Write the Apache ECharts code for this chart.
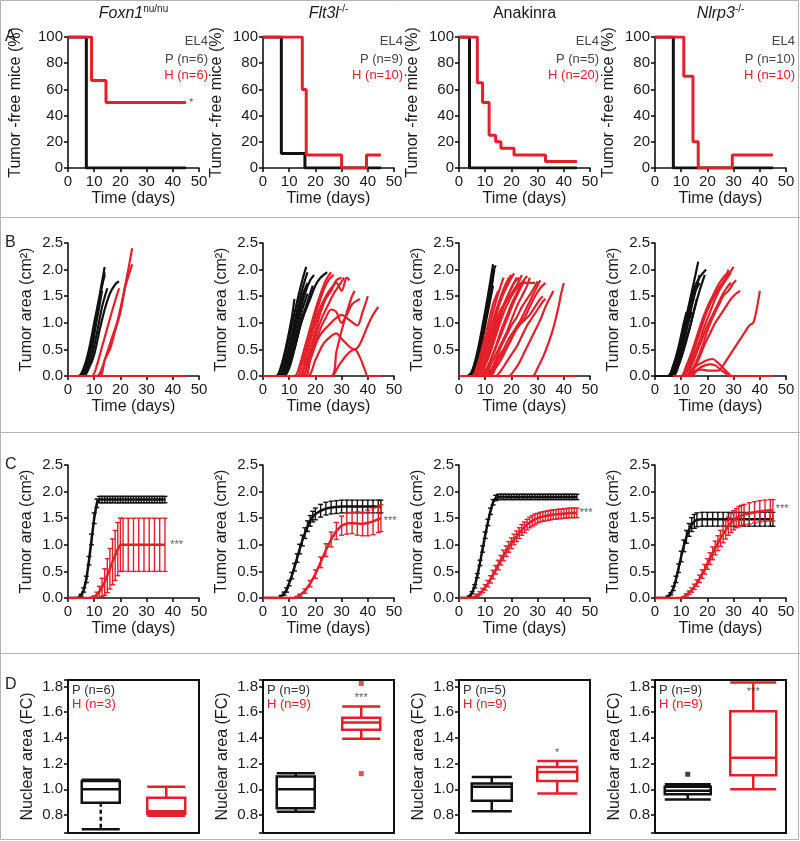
<!DOCTYPE html>
<html><head><meta charset="utf-8">
<script src="https://cdn.jsdelivr.net/npm/echarts@6/dist/echarts.min.js"></script>
<style>html,body{margin:0;padding:0;background:#fff}#c{width:800px;height:841px}</style>
</head><body><div id="c"></div>
<script>
// ---------------- DATA ----------------
const panelTitles = ['Foxn1|nu/nu', 'Flt3l|-/-', 'Anakinra|', 'Nlrp3|-/-'];
const legendA = [['EL4','P (n=6)','H (n=6)'],['EL4','P (n=9)','H (n=10)'],['EL4','P (n=5)','H (n=20)'],['EL4','P (n=10)','H (n=10)']];
const legendD = [['P (n=6)','H (n=3)'],['P (n=9)','H (n=9)'],['P (n=5)','H (n=9)'],['P (n=9)','H (n=9)']];

// Row A: tumor-free survival (step curves)
const foxnA_P_days = [0,7,45],            foxnA_P = [100,0,0];
const foxnA_H_days = [0,9,14.5,45],       foxnA_H = [100,66.7,50,50];
const flt3lA_P_days = [0,7,16,45],        flt3lA_P = [100,11.1,0,0];
const flt3lA_H_days = [0,15,16.5,30,39.5,45], flt3lA_H = [100,60,10,0,10,10];
const anakA_P_days = [0,4,45],            anakA_P = [100,0,0];
const anakA_H_days = [0,7,9,11.5,14,16,21,33,45], anakA_H = [100,65,50,25,20,15,10,5,5];
const nlrpA_P_days = [0,7,45],            nlrpA_P = [100,0,0];
const nlrpA_H_days = [0,11,14.5,16.5,29.5,45], nlrpA_H = [100,70,20,0,10,10];

// Row B: individual tumor growth curves [day, area]
const foxnB_P = [
 [[0,0],[4,0],[6,0.15],[8,0.5],[10,1.0],[12,1.5],[14,2.05]],
 [[0,0],[4,0],[6,0.1],[8,0.4],[10,0.9],[12,1.45],[14,1.95]],
 [[0,0],[5,0],[7,0.2],[9,0.6],[11,1.15],[13,1.7],[14,1.9]],
 [[0,0],[5,0],[7,0.15],[9,0.5],[11,1.05],[13,1.6]],
 [[0,0],[5,0],[7,0.1],[9,0.35],[11,0.8],[13,1.3],[15,1.65]],
 [[0,0],[6,0],[8,0.15],[10,0.4],[12,0.85],[14,1.25],[16,1.55],[18,1.72],[19.5,1.78]]
];
const foxnB_H = [
 [[0,0],[45,0]],[[0,0],[45,0]],[[0,0],[45,0]],
 [[0,0],[9,0],[11,0.2],[13,0.55],[15,0.9],[17,1.25],[19.5,1.65]],
 [[0,0],[11,0],[13,0.15],[15,0.45],[17,0.75],[19,1.05],[21,1.5],[23,2.0],[24.5,2.4]],
 [[0,0],[12,0],[14,0.3],[16,0.5],[18,0.85],[20,1.2],[22,1.7],[24.5,2.1]]
];
const flt3lB_P = [
 [[0,0],[5,0],[7,0.2],[9,0.6],[11,1.1],[12,1.45]],
 [[0,0],[5,0],[7,0.15],[9,0.5],[11,0.95],[13,1.4],[15,1.8],[16.5,2.05]],
 [[0,0],[6,0],[8,0.2],[10,0.55],[12,1.0],[14,1.45],[16,1.8],[17,1.95]],
 [[0,0],[6,0],[8,0.1],[10,0.4],[12,0.8],[14,1.2],[16,1.55],[18,1.8],[19.5,1.9]],
 [[0,0],[7,0],[9,0.15],[11,0.45],[13,0.85],[15,1.25],[17,1.55]],
 [[0,0],[6,0],[8,0.15],[10,0.5],[12,0.9],[14,1.3],[16,1.6]],
 [[0,0],[7,0],[9,0.2],[11,0.6],[13,1.05],[15,1.5],[17,1.75]],
 [[0,0],[8,0],[10,0.15],[12,0.5],[14,0.9],[16,1.2],[18,1.45],[20,1.7],[22,1.85],[24.5,1.95]],
 [[0,0],[7,0],[9,0.1],[11,0.35],[13,0.7],[15,1.1],[17,1.4],[19,1.7]]
];
const flt3lB_H = [
 [[0,0],[12,0],[14,0.2],[16,0.55],[18,0.9],[20,1.25],[22,1.55],[24,1.8],[26,1.95]],
 [[0,0],[13,0],[15,0.25],[17,0.6],[19,0.95],[21,1.3],[23,1.6],[25,1.8],[27,1.9]],
 [[0,0],[14,0],[16,0.2],[18,0.5],[20,0.85],[22,1.2],[24,1.45],[26,1.6],[28,1.8],[30,1.85]],
 [[0,0],[15,0],[17,0.25],[19,0.55],[21,0.9],[23,1.15],[25,1.35],[27,1.55],[29,1.7],[31,1.85]],
 [[0,0],[14,0],[16,0.3],[18,0.65],[20,1.0],[22,1.3],[24,1.5],[26,1.65],[28,1.75],[30,1.6],[32,1.85],[33,1.8]],
 [[0,0],[16,0],[18,0.3],[20,0.6],[22,0.9],[24,1.1],[26,1.25],[28,1.2],[30,1.0],[32,1.15],[34,1.35],[36,1.42],[37,1.45]],
 [[0,0],[15,0],[17,0.2],[19,0.45],[21,0.7],[23,0.85],[25,0.95],[27,1.05],[30,1.15],[33,1.05],[36,0.95],[38,1.2],[40,1.5]],
 [[0,0],[17,0],[20,0.3],[23,0.6],[26,0.75],[28,0.8],[30,0.7],[33,0.55],[35,0.5],[37,0.6],[40,0.95],[42,1.15],[44,1.3]],
 [[0,0],[26,0],[29,0.2],[32,0.4],[35,0.5],[37,0.35],[39,0.1],[40,0],[45,0]],
 [[0,0],[26,0],[28,0.45],[30,0.85],[32,1.2],[34,1.5],[35,1.6]]
];
const anakB_P = [
 [[0,0],[3,0],[5,0.1],[7,0.45],[9,0.95],[11,1.5],[13,2.1]],
 [[0,0],[3,0],[5,0.08],[7,0.4],[9,0.9],[11,1.4],[13,1.95],[14,2.08]],
 [[0,0],[4,0],[6,0.15],[8,0.5],[10,1.0],[12,1.55],[13.5,2.0]],
 [[0,0],[4,0],[6,0.1],[8,0.45],[10,0.95],[12,1.45],[13,1.7]],
 [[0,0],[3,0],[5,0.05],[7,0.35],[9,0.8],[11,1.3],[13,1.85]]
];
const anakB_H = [
 [[0,0],[5,0],[7,0.2],[9,0.55],[11,0.95],[13,1.35],[15,1.6]],
 [[0,0],[5,0],[7,0.15],[9,0.45],[11,0.8],[13,1.2],[15,1.55],[17,1.85]],
 [[0,0],[6,0],[8,0.2],[10,0.5],[12,0.85],[14,1.2],[16,1.5],[18,1.75],[20,1.9]],
 [[0,0],[6,0],[8,0.15],[10,0.4],[12,0.75],[14,1.1],[16,1.45],[18,1.7],[19,1.85]],
 [[0,0],[5,0],[7,0.1],[9,0.35],[11,0.65],[13,1.0],[15,1.3],[17,1.55],[19,1.75],[21,1.93]],
 [[0,0],[6,0],[8,0.1],[10,0.3],[12,0.6],[14,0.9],[16,1.2],[18,1.45],[20,1.65],[22,1.85]],
 [[0,0],[6,0],[8,0.2],[10,0.45],[12,0.7],[14,1.0],[16,1.25],[18,1.4],[20,1.55],[22,1.7],[24,1.9]],
 [[0,0],[7,0],[9,0.15],[11,0.4],[13,0.7],[15,1.0],[17,1.3],[19,1.55],[21,1.75],[23,1.85]],
 [[0,0],[8,0],[10,0.2],[12,0.45],[14,0.75],[16,1.05],[18,1.3],[20,1.5],[22,1.65],[24,1.75],[29,1.75]],
 [[0,0],[8,0],[10,0.1],[12,0.3],[14,0.55],[16,0.85],[18,1.1],[20,1.35],[22,1.55],[24,1.75],[26,1.88]],
 [[0,0],[9,0],[11,0.15],[13,0.4],[15,0.65],[17,0.9],[19,1.15],[21,1.4],[23,1.6],[25,1.8]],
 [[0,0],[10,0],[12,0.2],[14,0.4],[16,0.6],[18,0.8],[20,1.05],[22,1.3],[24,1.5],[26,1.7],[27,1.85]],
 [[0,0],[10,0],[12,0.1],[14,0.3],[16,0.55],[18,0.75],[20,0.95],[22,1.1],[24,1.3],[26,1.45],[28,1.6],[30,1.78]],
 [[0,0],[11,0],[13,0.15],[15,0.35],[17,0.5],[19,0.7],[21,0.85],[23,1.0],[25,1.1],[27,1.3],[29,1.5],[31,1.65],[33,1.75]],
 [[0,0],[11,0],[13,0.1],[15,0.3],[17,0.45],[19,0.6],[21,0.8],[23,0.95],[25,1.05],[27,1.15],[29,1.3],[31,1.45],[32,1.5]],
 [[0,0],[12,0],[14,0.15],[16,0.3],[18,0.5],[20,0.7],[22,0.9],[24,1.1],[26,1.3],[28,1.5],[30,1.7],[31,1.8]],
 [[0,0],[14,0],[16,0.1],[18,0.25],[20,0.4],[22,0.55],[24,0.75],[26,0.95],[28,1.1],[30,1.25],[32,1.4],[33,1.45]],
 [[0,0],[19,0],[21,0.1],[23,0.25],[25,0.45],[27,0.65],[29,0.85],[31,1.05],[33,1.3],[35,1.5],[36,1.6]],
 [[0,0],[28,0],[30,0.15],[32,0.35],[34,0.6],[36,0.9],[38,1.3],[39,1.55],[40,1.75]],
 [[0,0],[45,0]]
];
const nlrpB_P = [
 [[0,0],[5,0],[7,0.2],[9,0.5],[11,0.9],[13,1.35],[15,1.8],[16.5,2.15]],
 [[0,0],[5,0],[7,0.15],[9,0.45],[11,0.85],[13,1.25],[15,1.65],[17,1.85],[19.5,2.0]],
 [[0,0],[6,0],[8,0.25],[10,0.65],[12,1.1],[13,1.3]],
 [[0,0],[5,0],[7,0.2],[9,0.55],[11,1.0],[12,1.2]],
 [[0,0],[6,0],[8,0.2],[10,0.55],[12,0.95],[14,1.4],[15,1.6]],
 [[0,0],[6,0],[8,0.15],[10,0.45],[12,0.85],[14,1.3],[16,1.7],[17,1.9]],
 [[0,0],[6,0],[8,0.2],[10,0.5],[12,0.9],[14,1.2]],
 [[0,0],[5,0],[7,0.1],[9,0.4],[11,0.75],[13,1.15],[15,1.55],[17,1.75]],
 [[0,0],[6,0],[8,0.1],[10,0.35],[12,0.7],[14,1.05],[16,1.45]],
 [[0,0],[7,0],[9,0.2],[11,0.5],[13,0.85],[15,1.25],[17,1.6],[19,1.9]]
];
const nlrpB_H = [
 [[7,0],[10,0],[12,0.15],[14,0.4],[16,0.7],[18,1.0],[20,1.25],[22,1.45],[24,1.6],[26,1.75],[28,1.9],[30,2.05]],
 [[7,0],[10,0],[12,0.2],[14,0.45],[16,0.75],[18,1.05],[20,1.3],[22,1.5],[24,1.7],[26,1.85],[28,1.95]],
 [[7,0],[11,0],[13,0.15],[15,0.4],[17,0.65],[19,0.95],[21,1.2],[23,1.45],[25,1.65],[27,1.8],[29,1.95]],
 [[7,0],[12,0],[14,0.2],[16,0.45],[18,0.7],[20,0.95],[22,1.15],[24,1.35],[26,1.55],[28,1.7],[29,1.75]],
 [[7,0],[12,0],[14,0.1],[16,0.3],[18,0.55],[20,0.85],[22,1.1],[24,1.3],[26,1.5],[28,1.6],[30,1.75],[31,1.8]],
 [[7,0],[13,0],[15,0.15],[17,0.35],[19,0.6],[21,0.8],[23,1.0],[25,1.15],[27,1.3],[29,1.45],[31,1.55],[32.5,1.6]],
 [[7,0],[12,0],[14,0.1],[16,0.2],[18,0.25],[20,0.3],[22,0.32],[24,0.25],[26,0.15],[28,0.05],[29,0]],
 [[7,0],[13,0],[15,0.08],[17,0.15],[19,0.2],[21,0.22],[23,0.2],[25,0.12],[27,0.05],[28,0],[45,0]],
 [[7,0],[14,0],[16,0.1],[18,0.12],[20,0.1],[24,0.1],[26,0.2],[28,0.35],[30,0.5],[32,0.65],[34,0.8],[36,0.95],[37.5,1.0],[39,1.3],[40,1.6]],
 [[7,0],[11,0],[13,0.2],[15,0.5],[17,0.8],[19,1.1],[21,1.35],[23,1.55],[25,1.7],[27,1.85],[28,2.0]]
];

// Row C: mean tumor area [day, mean, sem]
const foxnC_P = [[0,0,0],[1,0,0],[2,0,0],[3,0,0],[4,0.01,0],[5,0.05,0.02],[6,0.15,0.04],[7,0.35,0.06],[8,0.7,0.08],[9,1.1,0.1],[10,1.5,0.1],[11,1.78,0.08],[12,1.85,0.06],[13,1.85,0.06],[14,1.85,0.06],[15,1.85,0.06],[16,1.85,0.06],[17,1.85,0.06],[18,1.85,0.06],[19,1.85,0.06],[20,1.85,0.06],[21,1.85,0.06],[22,1.85,0.06],[23,1.85,0.06],[24,1.85,0.06],[25,1.85,0.06],[26,1.85,0.06],[27,1.85,0.06],[28,1.85,0.06],[29,1.85,0.06],[30,1.85,0.06],[31,1.85,0.06],[32,1.85,0.06],[33,1.85,0.06],[34,1.85,0.06],[35,1.85,0.06],[36,1.85,0.06],[37,1.85,0.06]];
const foxnC_H = [[0,0,0],[2,0,0],[4,0,0],[6,0,0],[8,0,0],[10,0.02,0.02],[11,0.06,0.05],[12,0.12,0.1],[13,0.2,0.17],[14,0.3,0.25],[15,0.42,0.32],[16,0.55,0.38],[17,0.68,0.43],[18,0.8,0.47],[19,0.92,0.5],[20,1.0,0.5],[21,1.0,0.5],[23,1.0,0.5],[25,1.0,0.5],[27,1.0,0.5],[29,1.0,0.5],[31,1.0,0.5],[33,1.0,0.5],[35,1.0,0.5],[37,1.0,0.5]];
const flt3lC_P = [[0,0,0],[2,0,0],[4,0,0],[6,0,0],[7,0.03,0.02],[8,0.08,0.03],[9,0.15,0.04],[10,0.28,0.05],[11,0.42,0.06],[12,0.58,0.07],[13,0.75,0.08],[14,0.92,0.09],[15,1.08,0.1],[16,1.22,0.1],[17,1.35,0.1],[18,1.45,0.1],[19,1.53,0.1],[20,1.58,0.11],[22,1.64,0.12],[24,1.68,0.12],[26,1.7,0.12],[28,1.71,0.12],[30,1.72,0.12],[32,1.72,0.12],[34,1.72,0.12],[36,1.72,0.12],[38,1.72,0.12],[40,1.72,0.12],[42,1.72,0.12],[44,1.72,0.12],[45,1.72,0.12]];
const flt3lC_H = [[0,0,0],[4,0,0],[8,0,0],[12,0,0],[13,0.02,0.01],[14,0.05,0.02],[16,0.13,0.04],[18,0.27,0.06],[20,0.45,0.08],[22,0.67,0.1],[24,0.9,0.12],[26,1.1,0.14],[28,1.26,0.16],[30,1.36,0.18],[32,1.4,0.2],[34,1.41,0.2],[36,1.4,0.22],[38,1.39,0.22],[40,1.41,0.24],[42,1.44,0.25],[44,1.48,0.25],[45,1.5,0.25]];
const anakC_P = [[0,0,0],[2,0,0],[3,0,0],[4,0.03,0.01],[5,0.1,0.02],[6,0.22,0.03],[7,0.42,0.04],[8,0.66,0.05],[9,0.92,0.06],[10,1.18,0.06],[11,1.42,0.06],[12,1.63,0.06],[13,1.8,0.05],[14,1.88,0.05],[15,1.9,0.05],[16,1.9,0.05],[17,1.9,0.05],[18,1.9,0.05],[19,1.9,0.05],[20,1.9,0.05],[21,1.9,0.05],[22,1.9,0.05],[23,1.9,0.05],[24,1.9,0.05],[25,1.9,0.05],[26,1.9,0.05],[27,1.9,0.05],[28,1.9,0.05],[29,1.9,0.05],[30,1.9,0.05],[31,1.9,0.05],[32,1.9,0.05],[33,1.9,0.05],[34,1.9,0.05],[35,1.9,0.05],[36,1.9,0.05],[37,1.9,0.05],[38,1.9,0.05],[39,1.9,0.05],[40,1.9,0.05],[41,1.9,0.05],[42,1.9,0.05],[43,1.9,0.05],[44,1.9,0.05],[45,1.9,0.05]];
const anakC_H = [[0,0,0],[2,0,0],[4,0,0],[5,0,0],[6,0.02,0.01],[7,0.05,0.02],[8,0.09,0.03],[9,0.14,0.04],[10,0.2,0.05],[11,0.27,0.06],[12,0.35,0.07],[13,0.44,0.08],[14,0.53,0.08],[15,0.62,0.09],[16,0.71,0.09],[17,0.8,0.1],[18,0.88,0.1],[19,0.96,0.1],[20,1.03,0.1],[21,1.1,0.1],[22,1.16,0.1],[23,1.22,0.1],[24,1.28,0.1],[25,1.33,0.1],[26,1.38,0.1],[27,1.42,0.1],[28,1.45,0.1],[29,1.48,0.1],[30,1.5,0.09],[31,1.52,0.09],[32,1.53,0.09],[33,1.54,0.09],[34,1.55,0.09],[35,1.56,0.09],[36,1.57,0.09],[37,1.57,0.09],[38,1.58,0.09],[39,1.58,0.09],[40,1.59,0.09],[41,1.59,0.09],[42,1.6,0.09],[43,1.6,0.09],[44,1.6,0.09],[45,1.6,0.09]];
const nlrpC_P = [[0,0,0],[2,0,0],[4,0,0],[5,0.03,0.01],[6,0.08,0.02],[7,0.18,0.04],[8,0.35,0.06],[9,0.56,0.08],[10,0.78,0.1],[11,0.98,0.11],[12,1.15,0.12],[13,1.28,0.12],[14,1.38,0.13],[15,1.44,0.13],[16,1.47,0.13],[18,1.48,0.13],[20,1.48,0.13],[22,1.48,0.13],[24,1.48,0.13],[26,1.48,0.13],[28,1.48,0.13],[30,1.48,0.13],[32,1.48,0.13],[34,1.48,0.13],[36,1.48,0.13],[38,1.48,0.13],[40,1.48,0.13],[42,1.48,0.13],[44,1.48,0.13],[45,1.48,0.13]];
const nlrpC_H = [[0,0,0],[4,0,0],[8,0,0],[10,0,0],[11,0.02,0.01],[12,0.06,0.02],[13,0.1,0.03],[14,0.15,0.04],[15,0.21,0.05],[16,0.28,0.06],[17,0.36,0.07],[18,0.45,0.08],[19,0.54,0.09],[20,0.64,0.1],[21,0.74,0.11],[22,0.84,0.12],[23,0.94,0.13],[24,1.03,0.14],[25,1.12,0.15],[26,1.2,0.16],[27,1.28,0.17],[28,1.35,0.17],[29,1.41,0.18],[30,1.46,0.18],[31,1.5,0.18],[32,1.53,0.19],[33,1.55,0.19],[34,1.57,0.19],[36,1.59,0.2],[38,1.61,0.2],[40,1.63,0.2],[42,1.64,0.2],[44,1.65,0.2],[45,1.65,0.2]];

// Row D: nuclear area boxplots [min, Q1, median, Q3, max]
const groupsD = ['P', 'H'];
const foxnD_P = [0.69, 0.895, 1.0, 1.065, 1.075];
const foxnD_H = [0.795, 0.81, 0.83, 0.935, 1.02];
const flt3lD_P = [0.826, 0.852, 1.0, 1.10, 1.125];
const flt3lD_H = [1.393, 1.463, 1.52, 1.556, 1.643];
const flt3lD_H_out = [1.823, 1.122];
const anakD_P = [0.83, 0.91, 1.02, 1.045, 1.095];
const anakD_H = [0.968, 1.065, 1.135, 1.173, 1.22];
const nlrpD_P = [0.92, 0.962, 0.988, 1.019, 1.04];
const nlrpD_P_out = [1.117];
const nlrpD_H = [1.0, 1.11, 1.246, 1.607, 1.83];

// significance marks
const starsA = [['*', 47, 50], null, null, null];
const starsC = [['***', 41.5, 1.0], ['***', 48.5, 1.45], ['***', 48.5, 1.6], ['***', 48.5, 1.68]];
const starsD = [null, ['***', 'H', 1.71], ['*', 'H', 1.28], ['***', 'H', 1.76]];

// ---------------- CHART ----------------
const FONT = '"Liberation Sans", Arial, sans-serif';
const RED = '#e3202a', BLK = '#111111', TXT = '#1a1a1a';
const colX = [68, 263, 459, 655];
const PW = 131;
const rows = {A:{top:37,h:131}, B:{top:243,h:133}, C:{top:465,h:133}, D:{top:680,h:153}};
const lineStyleAx = {color:'#111', width:1.6};

const option = {animation:false, grid:[], xAxis:[], yAxis:[], series:[], graphic:[]};
let gi = 0;
function addGrid(col, rk, extraGrid) {
  const r = rows[rk];
  option.grid.push(Object.assign({left: colX[col], top: r.top, width: PW, height: r.h, containLabel:false}, extraGrid||{}));
  return gi++;
}
function timeX(idx) {
  return {gridIndex: idx, type:'value', min:0, max:50, interval:10,
    axisLine:{show:true, onZero:false, lineStyle:lineStyleAx},
    axisTick:{show:true, length:4, lineStyle:lineStyleAx},
    axisLabel:{fontSize:15, color:TXT, fontFamily:FONT, margin:6},
    splitLine:{show:false},
    name:'Time (days)', nameLocation:'middle', nameGap:23,
    nameTextStyle:{fontSize:16, color:TXT, fontFamily:FONT}};
}
function valY(idx, cfg) {
  return Object.assign({gridIndex: idx, type:'value',
    axisLine:{show:true, onZero:false, lineStyle:lineStyleAx},
    axisTick:{show:true, length:4, lineStyle:lineStyleAx},
    splitLine:{show:false}, nameLocation:'middle',
    nameTextStyle:{fontSize:16, color:TXT, fontFamily:FONT}}, cfg);
}
function starSeries(idx, s) {
  if (!s) return;
  option.series.push({type:'scatter', xAxisIndex:idx, yAxisIndex:idx, symbolSize:1, silent:true,
    itemStyle:{color:'rgba(0,0,0,0)'}, z:10,
    label:{show:true, position:'inside', formatter:s[0], color:'#333', fontSize:11, fontFamily:FONT},
    data:[[s[1], s[2]]]});
}
function zip(d, v) { return d.map((x, i) => [x, v[i]]); }

// Row A
const aData = [[foxnA_P_days,foxnA_P,foxnA_H_days,foxnA_H],[flt3lA_P_days,flt3lA_P,flt3lA_H_days,flt3lA_H],
               [anakA_P_days,anakA_P,anakA_H_days,anakA_H],[nlrpA_P_days,nlrpA_P,nlrpA_H_days,nlrpA_H]];
aData.forEach((d, c) => {
  const idx = addGrid(c, 'A');
  option.xAxis.push(timeX(idx));
  option.yAxis.push(valY(idx, {min:0, max:100, interval:20, name:'Tumor -free mice (%)', nameGap: c === 0 ? 44 : 38,
    axisLabel:{fontSize:15, color:TXT, fontFamily:FONT, margin:5}}));
  option.series.push({type:'line', step:'end', xAxisIndex:idx, yAxisIndex:idx, showSymbol:false, silent:true,
    lineStyle:{color:BLK, width:3}, itemStyle:{color:BLK}, data:zip(d[0], d[1]), z:2});
  option.series.push({type:'line', step:'end', xAxisIndex:idx, yAxisIndex:idx, showSymbol:false, silent:true,
    lineStyle:{color:RED, width:3}, itemStyle:{color:RED}, data:zip(d[2], d[3]), z:3});
  starSeries(idx, starsA[c]);
});

// Row B
const bData = [[foxnB_P, foxnB_H],[flt3lB_P, flt3lB_H],[anakB_P, anakB_H],[nlrpB_P, nlrpB_H]];
bData.forEach((d, c) => {
  const idx = addGrid(c, 'B');
  option.xAxis.push(timeX(idx));
  option.yAxis.push(valY(idx, {min:0, max:2.5, interval:0.5, name:'Tumor area (cm²)', nameGap:33,
    axisLabel:{fontSize:15, color:TXT, fontFamily:FONT, margin:5, showMinLabel: c !== 2, formatter: v => v.toFixed(1)}}));
  d[0].forEach(m => option.series.push({type:'line', xAxisIndex:idx, yAxisIndex:idx, showSymbol:false, silent:true, smooth:0.3,
    lineStyle:{color:BLK, width:2.2}, itemStyle:{color:BLK}, data:m, z:2}));
  d[1].forEach(m => option.series.push({type:'line', xAxisIndex:idx, yAxisIndex:idx, showSymbol:false, silent:true, smooth:0.3,
    lineStyle:{color:RED, width:2.2}, itemStyle:{color:RED}, data:m, z:3}));
});

// Row C
function errSeries(idx, data, color, z) {
  return {type:'custom', xAxisIndex:idx, yAxisIndex:idx, data:data, encode:{x:0, y:1}, silent:true, z:z,
    renderItem: function(params, api) {
      const x = api.value(0), m = api.value(1), e = api.value(2);
      if (!(e > 0)) return null;
      const t = api.coord([x, m + e]), b = api.coord([x, m - e]);
      const w = 2.5, st = {stroke:color, lineWidth:1.4};
      return {type:'group', children:[
        {type:'line', shape:{x1:t[0], y1:t[1], x2:b[0], y2:b[1]}, style:st},
        {type:'line', shape:{x1:t[0]-w, y1:t[1], x2:t[0]+w, y2:t[1]}, style:st},
        {type:'line', shape:{x1:b[0]-w, y1:b[1], x2:b[0]+w, y2:b[1]}, style:st}]};
    }};
}
const cData = [[foxnC_P, foxnC_H],[flt3lC_P, flt3lC_H],[anakC_P, anakC_H],[nlrpC_P, nlrpC_H]];
cData.forEach((d, c) => {
  const idx = addGrid(c, 'C');
  option.xAxis.push(timeX(idx));
  option.yAxis.push(valY(idx, {min:0, max:2.5, interval:0.5, name:'Tumor area (cm²)', nameGap:33,
    axisLabel:{fontSize:15, color:TXT, fontFamily:FONT, margin:5, formatter: v => v.toFixed(1)}}));
  option.series.push({type:'line', xAxisIndex:idx, yAxisIndex:idx, showSymbol:false, silent:true,
    lineStyle:{color:BLK, width:2.5}, data:d[0].map(p => [p[0], p[1]]), z:2});
  option.series.push(errSeries(idx, d[0], BLK, 2));
  option.series.push({type:'line', xAxisIndex:idx, yAxisIndex:idx, showSymbol:false, silent:true,
    lineStyle:{color:RED, width:2.5}, data:d[1].map(p => [p[0], p[1]]), z:3});
  option.series.push(errSeries(idx, d[1], RED, 3));
  starSeries(idx, starsC[c]);
});

// Row D
const dData = [[foxnD_P, foxnD_H, [], []],[flt3lD_P, flt3lD_H, [], flt3lD_H_out],
               [anakD_P, anakD_H, [], []],[nlrpD_P, nlrpD_H, nlrpD_P_out, []]];
const boxW = [38, 38, 40, 46];
dData.forEach((d, c) => {
  const idx = addGrid(c, 'D', {show:true, borderColor:'#111', borderWidth:2, backgroundColor:'rgba(0,0,0,0)'});
  option.xAxis.push({gridIndex:idx, type:'category', data:groupsD, boundaryGap:true,
    axisLine:{show:false}, axisTick:{show:false}, axisLabel:{show:false}, splitLine:{show:false}});
  option.yAxis.push(valY(idx, {min:0.66, max:1.85, splitNumber:6, name:'Nuclear area (FC)', nameGap:32,
    axisTick:{show:true, length:4, lineStyle:lineStyleAx},
    axisLabel:{fontSize:15, color:TXT, fontFamily:FONT, margin:5,
      formatter: v => (Math.abs(v*5 - Math.round(v*5)) < 1e-6 ? v.toFixed(1) : '')}}));
  option.series.push({type:'boxplot', xAxisIndex:idx, yAxisIndex:idx, silent:true, boxWidth:[boxW[c], boxW[c]],
    itemStyle:{color:'#fff', borderWidth:2.5},
    data:[{value:d[0], itemStyle:{borderColor:BLK}}, {value:d[1], itemStyle:{borderColor:RED}}]});
  if (c === 0) {
    // lower whisker of P drawn dashed in the original figure
    option.series.push({type:'custom', xAxisIndex:idx, yAxisIndex:idx, silent:true, z:5,
      data:[['P', d[0][0], d[0][1]]],
      renderItem: function(params, api) {
        const a = api.coord([api.value(0), api.value(1)]), b = api.coord([api.value(0), api.value(2)]);
        return {type:'group', children:[
          {type:'line', shape:{x1:a[0], y1:a[1]-1.5, x2:b[0], y2:b[1]+1.5}, style:{stroke:'#fff', lineWidth:4}},
          {type:'line', shape:{x1:a[0], y1:a[1]-1.5, x2:b[0], y2:b[1]+1.5}, style:{stroke:BLK, lineWidth:2.5, lineDash:[4,3]}}]};
      }});
  }
  if (d[2].length) option.series.push({type:'scatter', xAxisIndex:idx, yAxisIndex:idx, symbol:'rect', symbolSize:5, silent:true,
    itemStyle:{color:BLK}, data:d[2].map(v => ['P', v])});
  if (d[3].length) option.series.push({type:'scatter', xAxisIndex:idx, yAxisIndex:idx, symbol:'rect', symbolSize:5, silent:true,
    itemStyle:{color:RED}, data:d[3].map(v => ['H', v])});
  starSeries(idx, starsD[c]);
});

// Decorations: frame, separators, panel letters, titles, legends
const G = option.graphic;
G.push({type:'rect', silent:true, shape:{x:0.5, y:0.5, width:798, height:839}, style:{fill:'none', stroke:'#b3b3b3', lineWidth:1}});
[217, 432, 653].forEach(y => G.push({type:'line', silent:true, shape:{x1:0, y1:y+0.5, x2:800, y2:y+0.5}, style:{stroke:'#b3b3b3', lineWidth:1}}));
[['A',37],['B',243],['C',465],['D',685]].forEach(l => G.push({type:'text', x:5, y:l[1], silent:true,
  style:{text:l[0], fontSize:16, fontFamily:FONT, fill:'#222', align:'left', verticalAlign:'middle'}}));
panelTitles.forEach((t, c) => {
  const parts = t.split('|');
  const italic = c !== 2;
  G.push({type:'text', x: colX[c] + PW/2, y: 14, silent:true,
    style:{text: '{m|' + parts[0] + '}' + (parts[1] ? '{s|' + parts[1] + '}' : ''), align:'center', verticalAlign:'middle',
      rich:{m:{fontSize:16, fontFamily:FONT, fontStyle: italic ? 'italic' : 'normal', fill:'#1a1a1a', lineHeight:20},
            s:{fontSize:10, fontFamily:FONT, fill:'#1a1a1a', lineHeight:11, verticalAlign:'top'}}}});
});
legendA.forEach((l, c) => {
  const ys = [41, 59, 75], cols = ['#444', '#444', RED];
  l.forEach((t, i) => G.push({type:'text', x: colX[c] + 140, y: ys[i], silent:true,
    style:{text:t, fontSize:13, fontFamily:FONT, fill:cols[i], align:'right', verticalAlign:'middle'}}));
});
legendD.forEach((l, c) => {
  const ys = [690, 704], cols = ['#333', RED];
  l.forEach((t, i) => G.push({type:'text', x: colX[c] + 4, y: ys[i], silent:true,
    style:{text:t, fontSize:13, fontFamily:FONT, fill:cols[i], align:'left', verticalAlign:'middle'}}));
});

const chart = echarts.init(document.getElementById('c'), null, {renderer:'canvas'});
chart.setOption(option);
</script></body></html>
